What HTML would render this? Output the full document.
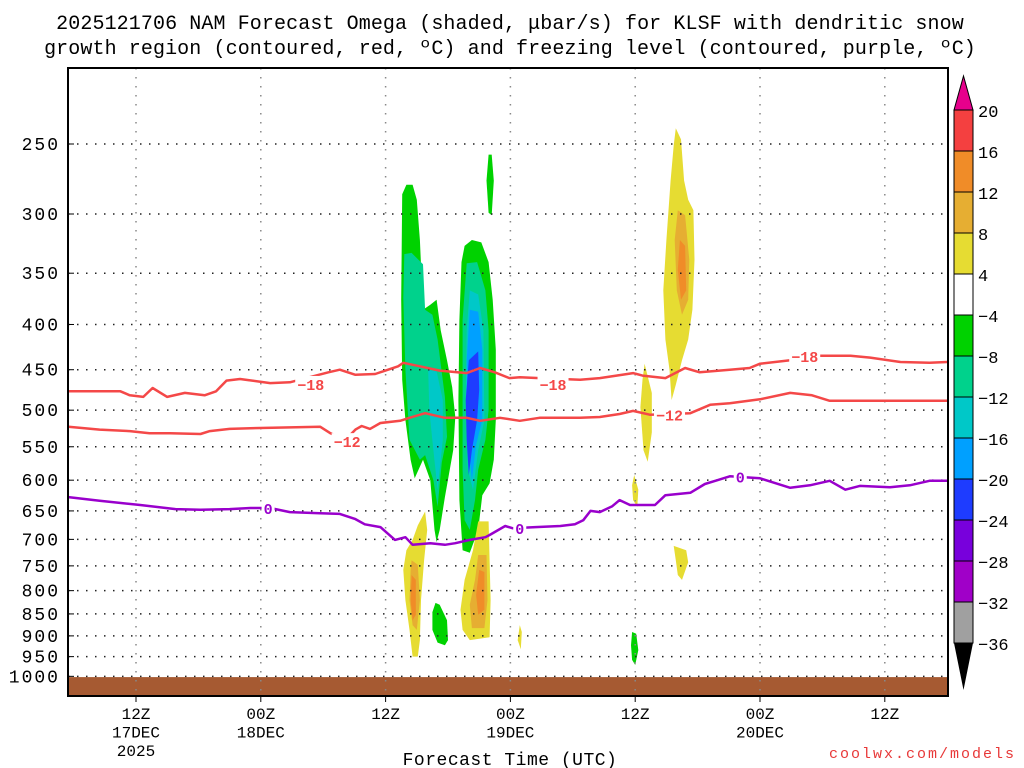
<!DOCTYPE html>
<html><head><meta charset="utf-8"><style>
html,body{margin:0;padding:0;background:#fff;}
svg{display:block;font-family:"Liberation Mono",monospace;}
</style></head><body>
<svg id="chart" width="1024" height="768" viewBox="0 0 1024 768" xmlns="http://www.w3.org/2000/svg">
<text x="510" y="29" font-size="20" letter-spacing="0.1" text-anchor="middle">2025121706 NAM Forecast Omega (shaded, μbar/s) for KLSF with dendritic snow</text>
<text x="510" y="54" font-size="20" letter-spacing="0.1" text-anchor="middle">growth region (contoured, red, ºC) and freezing level (contoured, purple, ºC)</text>
<g id="fills"></g>
<g id="grid"></g>
<g id="lines"></g>
<g id="axes"></g>
<g id="cbar"></g>
<text x="510" y="765" font-size="18" letter-spacing="0.5" text-anchor="middle">Forecast Time (UTC)</text>
<text x="1016" y="758" font-size="15" letter-spacing="2" text-anchor="end" fill="#e83838">coolwx.com/models</text>
</svg>
<script>
// ---- data ----
const pTicks=[250,300,350,400,450,500,550,600,650,700,750,800,850,900,950,1000];
const xTickHours=[6,18,30,42,54,66,78];
const xTickLine1=["12Z","00Z","12Z","00Z","12Z","00Z","12Z"];
const xTickLine2=["17DEC","18DEC","","19DEC","","20DEC",""];
const xTickLine3=["2025","","","","","",""];
const cbarLabels=["20","16","12","8","4","−4","−8","−12","−16","−20","−24","−28","−32","−36"];
const cbarColors=["#f44040","#f08c28","#e6ae32","#e6dc32","#ffffff","#00d200","#00d28c","#00c8c8","#00a0ff","#1e3cff","#7800dc","#a000c8","#a0a0a0"];
const surfacePressure=1002;
const lineM18=[[-0.5,476],[4.5,476],[5.4,481],[6.7,483],[7.6,472],[9.0,483],[10.7,478],[12.6,481],[13.7,476],[14.7,463],[16.0,461],[18.9,466],[20.8,465],[24.5,453],[25.6,450],[27.1,456],[29.0,455],[31.2,446],[31.7,442],[33.3,446],[35.2,451],[37.8,454],[39.1,448],[40.5,453],[41.9,460],[42.9,459],[44.8,460],[48.7,462],[50.6,460],[53.8,454],[54.7,457],[56.9,460],[58.8,448],[60.2,453],[63.1,450],[65.0,448],[66.0,443],[68.9,439],[70.8,434],[74.7,434],[76.6,436],[79.5,441],[82.3,442],[84.0,441]];
const labelsM18=[[22.8,467],[46.1,467],[70.3,434]];
const lineM12=[[-0.5,522],[2.5,526],[5.4,528],[7.3,531],[9.3,531],[12.2,532],[13.1,528],[15.0,525],[17.0,524],[23.7,522],[24.7,531],[26.1,541],[27.1,526],[27.7,521],[28.5,525],[29.5,517],[31.4,514],[32.3,510],[33.8,504],[35.7,510],[37.8,510],[39.1,514],[41.0,510],[42.9,514],[44.8,510],[48.7,510],[50.6,509],[52.5,505],[53.8,501],[55.4,506],[59.3,504],[61.2,493],[63.1,491],[66.0,486],[68.9,478],[71.0,481],[72.7,488],[75.6,488],[84.0,488]];
const labelsM12=[[26.3,542],[57.3,506]];
const line0=[[-0.5,627],[2.5,633],[6.4,640],[9.8,647],[12.2,648],[15.0,647],[17.0,645],[18.9,645],[20.8,652],[23.7,654],[25.6,655],[27.1,664],[28.0,673],[29.5,678],[30.9,701],[31.9,696],[32.6,710],[34.3,707],[35.7,710],[36.7,707],[38.1,701],[39.6,696],[40.0,692],[41.5,676],[42.2,680],[44.4,678],[46.8,676],[48.2,673],[49.0,666],[49.7,650],[50.6,652],[51.8,642],[52.5,632],[53.5,640],[55.9,640],[56.9,624],[59.3,620],[60.7,606],[61.9,600],[63.1,594],[66.0,597],[68.9,612],[70.8,608],[72.7,601],[74.2,615],[75.6,609],[78.5,611],[80.4,608],[82.3,601],[84.0,601]];
const labels0=[[18.7,645],[42.9,680],[64.1,594]];
const blobLevels=[5,6,7,5,6,7,8,9,5,3,2,1,5,3,2,1,3,3,2,1,3,3,3,5];
const blobShapes=[
[[31.6,285],[32.0,278],[32.6,278],[33.0,289],[33.3,321],[33.6,385],[34.3,380],[34.9,375],[35.3,406],[35.9,439],[36.4,471],[36.7,509],[36.5,555],[35.7,627],[35.2,683],[34.9,705],[34.7,683],[34.3,600],[33.6,569],[32.8,597],[32.4,569],[31.9,513],[31.6,462],[31.5,375]],
[[31.8,333],[32.5,332],[33.6,342],[33.8,385],[34.5,390],[35.0,416],[35.7,483],[35.9,536],[35.4,573],[35.0,643],[34.6,600],[33.8,562],[33.3,569],[32.3,540],[31.9,450],[31.7,373]],
[[34.1,450],[34.9,452],[35.5,487],[35.5,540],[35.0,615],[34.6,555],[34.2,500]],
[[37.3,340],[37.6,326],[38.3,321],[39.2,323],[39.9,340],[40.3,375],[40.6,427],[40.6,513],[40.4,569],[40.0,605],[39.3,624],[38.9,683],[38.1,725],[37.4,720],[37.1,632],[37.0,487],[37.1,395]],
[[37.8,341],[38.8,340],[39.6,366],[39.9,406],[39.9,500],[39.6,540],[38.9,584],[38.6,632],[38.1,683],[37.6,666],[37.4,584],[37.4,487],[37.4,395]],
[[38.1,366],[38.9,370],[39.4,406],[39.5,513],[38.9,555],[38.4,615],[37.9,584],[37.7,487],[37.8,406]],
[[38.1,385],[38.9,387],[39.3,427],[39.3,513],[38.7,547],[38.3,600],[37.9,540],[37.8,439]],
[[38.0,439],[38.9,429],[39.0,474],[38.8,513],[38.3,555],[38.0,592],[37.8,540],[37.7,487]],
[[39.9,257],[40.2,257],[40.4,275],[40.2,301],[39.9,299],[39.7,275]],
[[33.8,651],[34.0,683],[33.7,739],[33.4,820],[33.3,910],[33.1,950],[32.6,950],[32.3,886],[31.9,820],[31.7,758],[32.0,720],[32.6,701],[33.1,675]],
[[32.5,739],[33.1,748],[33.3,820],[33.0,886],[32.6,875],[32.3,820],[32.4,758]],
[[32.5,768],[32.9,778],[32.9,852],[32.6,864],[32.4,820]],
[[34.8,826],[35.2,830],[35.9,864],[36.0,910],[35.7,922],[35.0,916],[34.5,886],[34.5,846]],
[[38.9,668],[39.9,668],[40.0,739],[40.1,820],[40.0,903],[38.1,910],[37.4,886],[37.2,841],[37.6,778],[38.4,720]],
[[38.9,729],[39.7,729],[39.8,820],[39.5,882],[38.3,882],[38.1,830],[38.6,778]],
[[39.0,758],[39.5,762],[39.5,841],[38.9,852],[38.7,809]],
[[42.9,875],[43.1,891],[43.0,932],[42.7,910]],
[[57.9,240],[58.4,247],[58.7,275],[59.1,289],[59.6,297],[59.7,338],[59.5,385],[59.1,416],[58.5,439],[57.9,468],[57.5,487],[57.3,450],[56.9,416],[56.7,366],[57.0,321],[57.4,275],[57.7,251]],
[[58.1,297],[58.8,301],[59.2,338],[59.1,375],[58.5,390],[58.0,366],[57.8,321]],
[[58.3,321],[58.8,326],[58.9,366],[58.4,375],[58.1,347]],
[[54.9,443],[55.6,478],[55.6,530],[55.2,572],[54.8,555],[54.5,496],[54.7,462]],
[[53.9,592],[54.3,615],[54.2,643],[53.8,632],[53.7,608]],
[[57.7,712],[58.9,720],[59.1,743],[58.5,778],[58.1,768],[57.9,739]],
[[53.7,891],[54.1,895],[54.3,934],[54.0,971],[53.7,958],[53.6,922]]
];
// ---- axis functions ----
const X0=68,X1=948,Y0=68,Y1=696;
function xs(h){return 73.6+10.4*h;}
function ys(p){return 144+384*Math.log(p/250);}
const NS="http://www.w3.org/2000/svg";
function mk(tag,attrs,parent){const e=document.createElementNS(NS,tag);for(const k in attrs)e.setAttribute(k,attrs[k]);parent.appendChild(e);return e;}
const fills=document.getElementById('fills'),grid=document.getElementById('grid'),lines=document.getElementById('lines'),axes=document.getElementById('axes'),cbar=document.getElementById('cbar');
blobShapes.forEach((s,i)=>{
  const e=mk('polygon',{points:s.map(q=>xs(q[0]).toFixed(1)+','+ys(q[1]).toFixed(1)).join(' '),fill:cbarColors[blobLevels[i]]},fills);
  
  
});
const gy=ys(surfacePressure);
const g=mk('rect',{x:X0,y:gy,width:X1-X0,height:Y1-gy,fill:"#a65a32"},fills);


pTicks.forEach(p=>{
  const y=ys(p);
  const l=mk('line',{x1:X0,x2:X1,y1:y,y2:y,stroke:"#222","stroke-width":1.5,"stroke-dasharray":"1.5 7.5"},grid);
  
  
  const t=mk('text',{x:60,y:y+6,"font-size":18,"letter-spacing":2,"text-anchor":"end"},axes);
  t.textContent=p;
  
  
  mk('line',{x1:X0,x2:X0+6,y1:y,y2:y,stroke:"#000","stroke-width":1},axes);
});
xTickHours.forEach((h,i)=>{
  const x=xs(h);
  const l=mk('line',{x1:x,x2:x,y1:Y0,y2:Y1,stroke:"#888","stroke-width":1.5,"stroke-dasharray":"1.5 7.5"},grid);
  
  
  mk('line',{x1:x,x2:x,y1:Y1,y2:Y1+6,stroke:"#000","stroke-width":1},axes);
  [xTickLine1[i],xTickLine2[i],xTickLine3[i]].forEach((s,j)=>{
    if(!s)return;
    const t=mk('text',{x:x,y:719+j*18.5,"font-size":16,"text-anchor":"middle"},axes);
    t.textContent=s;
    
    
  });
});
function drawLine(data,labels,color,txt,name){
  const d=data.map((q,i)=>(i?'L':'M')+xs(q[0]).toFixed(1)+','+ys(q[1]).toFixed(1)).join(' ');
  const pth=mk('path',{d:d,fill:"none",stroke:color,"stroke-width":2.5,"stroke-linejoin":"round"},lines);
  
  
  labels.forEach(q=>{
    const x=xs(q[0]),y=ys(q[1]);
    const w=txt.length*9+4;
    mk('rect',{x:x-w/2,y:y-8,width:w,height:16,fill:"#fff"},lines);
    const t=mk('text',{x:x,y:y+6,"font-size":15,"font-weight":"bold","text-anchor":"middle",fill:color},lines);
    t.textContent=txt;
    
    
  });
}
drawLine(lineM18,labelsM18,"#f44848","−18","contour-minus18");
drawLine(lineM12,labelsM12,"#f44848","−12","contour-minus12");
drawLine(line0,labels0,"#9900cc","0","freezing-level");
const fr=mk('rect',{x:X0,y:Y0,width:X1-X0,height:Y1-Y0,fill:"none",stroke:"#000","stroke-width":2},axes);


const CX=954,CW=19,CT=110,BH=41;
mk('polygon',{points:`${CX},${CT} ${CX+CW},${CT} ${CX+CW/2},${CT-34}`,fill:"#e6008c",stroke:"#000","stroke-width":1},cbar);
cbarColors.forEach((c,i)=>{
  const r=mk('rect',{x:CX,y:CT+i*BH,width:CW,height:BH,fill:c,stroke:"#000","stroke-width":1},cbar);
  
  
});
const cb=CT+cbarColors.length*BH;
mk('polygon',{points:`${CX},${cb} ${CX+CW},${cb} ${CX+CW/2},${cb+47}`,fill:"#000"},cbar);
cbarLabels.forEach((s,i)=>{
  const t=mk('text',{x:978,y:CT+i*BH+7,"font-size":17},cbar);
  t.textContent=s;
  
  
});
</script>
</body></html>
